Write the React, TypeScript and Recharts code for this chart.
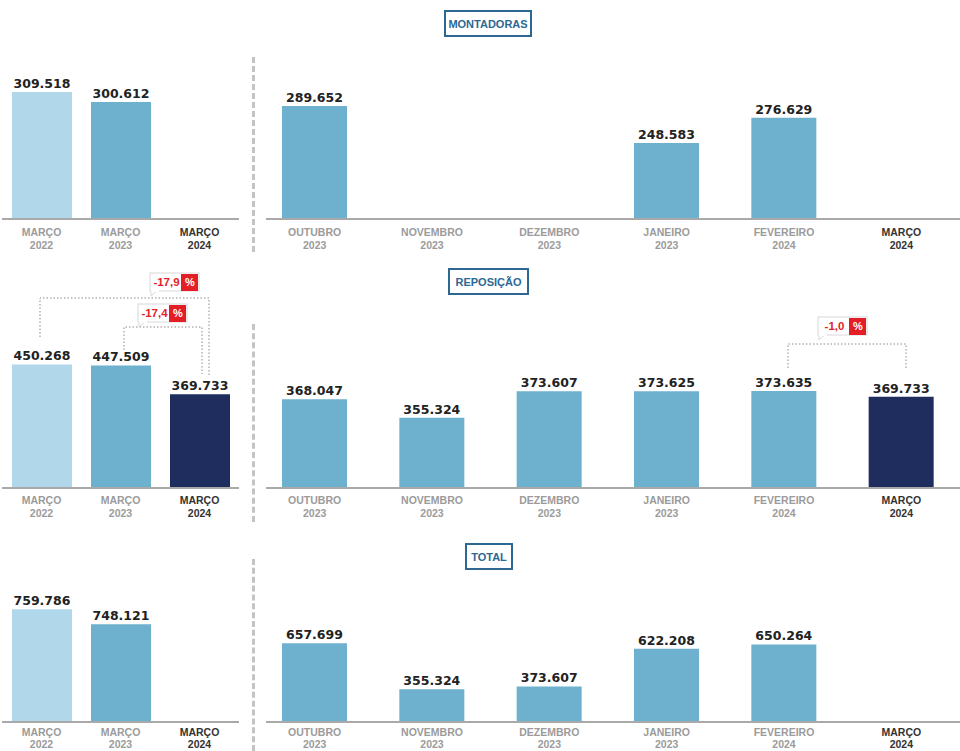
import { BarChart, Bar, XAxis, YAxis, Cell, LabelList } from "recharts";

// Categorias
const ANUAL_MESES = ["MARÇO", "MARÇO", "MARÇO"];
const ANUAL_ANOS = ["2022", "2023", "2024"];
const MENSAL_MESES = ["OUTUBRO", "NOVEMBRO", "DEZEMBRO", "JANEIRO", "FEVEREIRO", "MARÇO"];
const MENSAL_ANOS = ["2023", "2023", "2023", "2023", "2024", "2024"];

// Valores (unidades)
const montadorasAnual = [309518, 300612, null];
const montadorasMensal = [289652, null, null, 248583, 276629, null];
const reposicaoAnual = [450268, 447509, 369733];
const reposicaoMensal = [368047, 355324, 373607, 373625, 373635, 369733];
const totalAnual = [759786, 748121, null];
const totalMensal = [657699, 355324, 373607, 622208, 650264, null];

// Escalas de cada painel (infográfico: eixo não começa em zero)
const DOM_MONT_ANUAL: [number, number] = [196400, 330000];
const DOM_MONT_MENSAL: [number, number] = [164200, 330700];
const DOM_REP_ANUAL: [number, number] = [116800, 521500];
const DOM_REP_MENSAL: [number, number] = [306750, 410300];
const DOM_TOT_ANUAL: [number, number] = [672200, 788800];
const DOM_TOT_MENSAL: [number, number] = [139400, 1126900];

const LIGHT = "#b1d8ea";
const MID = "#6db1ce";
const NAVY = "#1f2c5e";
const COR_ANUAL = [LIGHT, MID, NAVY];
const COR_MENSAL = [MID, MID, MID, MID, MID, NAVY];

const SANS = "'Liberation Sans', Arial, sans-serif";
const NUM_FONT = "'DejaVu Sans', Verdana, sans-serif";

const fmt = (v: any) =>
  v == null ? "" : String(v).replace(/\B(?=(\d{3})+(?!\d))/g, ".");

const M_TOP = 30;
const PLOT_H = 150;
const AXIS_H = 36;

function build(meses: string[], anos: string[], vals: (number | null)[]) {
  return meses.map((m, i) => ({ name: `${m}|${anos[i]}`, value: vals[i] }));
}

function CatTick(props: any) {
  const { x, y, payload, dy1 = 16, dy2 = 29 } = props;
  const [mes, ano] = String(payload.value).split("|");
  const dest = mes === "MARÇO" && ano === "2024";
  const fill = dest ? "#333333" : "#9b9b9b";
  return (
    <g>
      <text x={x} y={y + dy1} textAnchor="middle" fill={fill} fontSize={10.5} fontWeight={700} fontFamily={SANS}>
        {mes}
      </text>
      <text x={x} y={y + dy2} textAnchor="middle" fill={fill} fontSize={10.5} fontWeight={700} fontFamily={SANS}>
        {ano}
      </text>
    </g>
  );
}

interface PanelProps {
  data: { name: string; value: number | null }[];
  colors: string[];
  domain: [number, number];
  left: number;
  width: number;
  baseline: number;
  barSize: number;
  axisLine: boolean;
  dy1?: number;
  dy2?: number;
}

function Panel({ data, colors, domain, left, width, baseline, barSize, axisLine, dy1 = 16, dy2 = 29 }: PanelProps) {
  const h = M_TOP + PLOT_H + AXIS_H;
  return (
    <div style={{ position: "absolute", left, top: baseline - PLOT_H - M_TOP, width, height: h }}>
      <BarChart width={width} height={h} data={data} margin={{ top: M_TOP, right: 0, left: 0, bottom: 0 }}>
        <XAxis
          dataKey="name"
          height={AXIS_H}
          interval={0}
          tickLine={false}
          tickSize={0}
          tickMargin={0}
          tick={<CatTick dy1={dy1} dy2={dy2} />}
          axisLine={axisLine ? { stroke: "#a9a9a9", strokeWidth: 2 } : false}
        />
        <YAxis hide type="number" scale="linear" domain={domain} allowDataOverflow />
        <Bar dataKey="value" barSize={barSize} isAnimationActive={false}>
          {data.map((_, i) => (
            <Cell key={i} fill={colors[i]} />
          ))}
          <LabelList
            dataKey="value"
            position="top"
            offset={4}
            formatter={fmt}
            fill="#222222"
            fontSize={12.5}
            fontWeight={700}
            fontFamily={NUM_FONT}
          />
        </Bar>
      </BarChart>
    </div>
  );
}

function Titulo({ text, left, top, width, height }: { text: string; left: number; top: number; width: number; height: number }) {
  return (
    <div
      style={{
        position: "absolute",
        left,
        top,
        width,
        height,
        boxSizing: "border-box",
        border: "2px solid #2c6892",
        display: "flex",
        alignItems: "center",
        justifyContent: "center",
        color: "#2c6892",
        fontFamily: SANS,
        fontWeight: 700,
        fontSize: 11,
      }}
    >
      {text}
    </div>
  );
}

function Separador({ top, bottom }: { top: number; bottom: number }) {
  return (
    <div
      style={{
        position: "absolute",
        left: 252,
        top,
        width: 0,
        height: bottom - top,
        borderLeft: "3px dashed #c4c4c4",
      }}
    />
  );
}

function EixoLinha({ y }: { y: number }) {
  return <div style={{ position: "absolute", left: 266, top: y - 1, width: 694, height: 2, background: "#a9a9a9" }} />;
}

function Selo({ x, y, w, txt }: { x: number; y: number; w: number; txt: string }) {
  const h = 18;
  const red = 18;
  return (
    <g>
      <polygon points={`${x + 1},${y + h - 1} ${x + 1},${y + h + 5} ${x + 8},${y + h - 1}`} fill="#ffffff" stroke="#d8d8d8" />
      <rect x={x} y={y} width={w} height={h} fill="#ffffff" stroke="#d8d8d8" />
      <rect x={x + 1} y={y + h - 2} width={8} height={3} fill="#ffffff" />
      <rect x={x + w - red} y={y + 1} width={red - 1} height={h - 1} fill="#e31e26" />
      <text x={x + (w - red) / 2 + 1} y={y + 13} textAnchor="middle" fill="#e31e26" fontSize={11.5} fontWeight={700} fontFamily={SANS}>
        {txt}
      </text>
      <text x={x + w - red / 2} y={y + 13} textAnchor="middle" fill="#ffffff" fontSize={11} fontWeight={700} fontFamily={SANS}>
        %
      </text>
    </g>
  );
}

function Anotacoes() {
  const dot = { fill: "none", stroke: "#8a8a8a", strokeWidth: 1, strokeDasharray: "1.5 2" };
  return (
    <svg width={960} height={751} style={{ position: "absolute", left: 0, top: 0, pointerEvents: "none" }}>
      <polyline points="40,337 40,298 209,298 209,377" {...dot} />
      <polyline points="124,350 124,327 202,327 202,374" {...dot} />
      <polyline points="788,368 788,344 906,344 906,368" {...dot} />
      <Selo x={150} y={273} w={49} txt="-17,9" />
      <Selo x={138} y={304} w={49} txt="-17,4" />
      <Selo x={818} y={317} w={49} txt="-1,0" />
    </svg>
  );
}

export default function App() {
  return (
    <div
      style={{
        position: "absolute",
        left: 0,
        top: 0,
        width: 960,
        height: 751,
        overflow: "hidden",
        background: "#ffffff",
      }}
    >
      <Titulo text="MONTADORAS" left={444} top={10} width={88} height={27} />
      <Titulo text="REPOSIÇÃO" left={448} top={268} width={81} height={27} />
      <Titulo text="TOTAL" left={465} top={543} width={48} height={27} />

      <Separador top={57} bottom={252} />
      <Separador top={324} bottom={522} />
      <Separador top={559} bottom={751} />

      <Panel data={build(ANUAL_MESES, ANUAL_ANOS, montadorasAnual)} colors={COR_ANUAL} domain={DOM_MONT_ANUAL} left={2} width={237} baseline={219} barSize={60} axisLine dy1={17} dy2={30} />
      <Panel data={build(MENSAL_MESES, MENSAL_ANOS, montadorasMensal)} colors={COR_MENSAL} domain={DOM_MONT_MENSAL} left={256} width={704} baseline={219} barSize={65} axisLine={false} dy1={17} dy2={30} />
      <EixoLinha y={219} />

      <Panel data={build(ANUAL_MESES, ANUAL_ANOS, reposicaoAnual)} colors={COR_ANUAL} domain={DOM_REP_ANUAL} left={2} width={237} baseline={488} barSize={60} axisLine />
      <Panel data={build(MENSAL_MESES, MENSAL_ANOS, reposicaoMensal)} colors={COR_MENSAL} domain={DOM_REP_MENSAL} left={256} width={704} baseline={488} barSize={65} axisLine={false} />
      <EixoLinha y={488} />

      <Panel data={build(ANUAL_MESES, ANUAL_ANOS, totalAnual)} colors={COR_ANUAL} domain={DOM_TOT_ANUAL} left={2} width={237} baseline={722} barSize={60} axisLine dy1={14} dy2={26} />
      <Panel data={build(MENSAL_MESES, MENSAL_ANOS, totalMensal)} colors={COR_MENSAL} domain={DOM_TOT_MENSAL} left={256} width={704} baseline={722} barSize={65} axisLine={false} dy1={14} dy2={26} />
      <EixoLinha y={722} />

      <Anotacoes />
    </div>
  );
}
